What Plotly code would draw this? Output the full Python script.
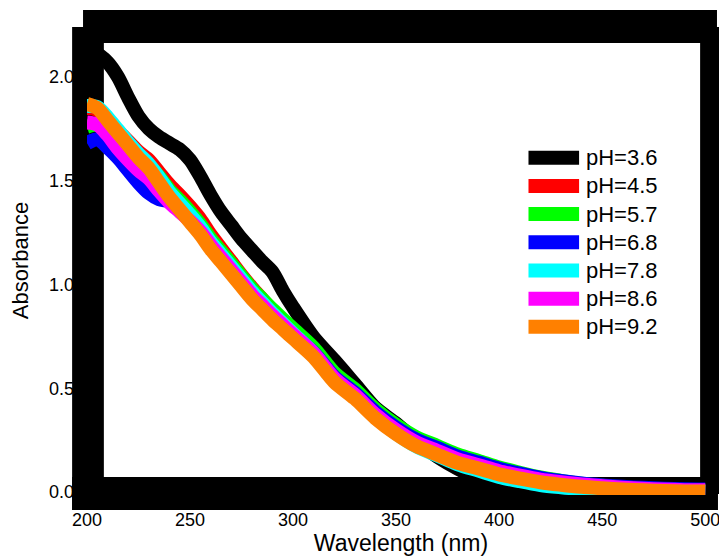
import plotly.graph_objects as go

# ---------------- data ----------------
wavelength = [200, 205, 210, 215, 220, 225, 230, 235, 240, 245, 250, 255, 260, 265, 270,
              275, 280, 285, 290, 295, 300, 310, 320, 330, 340, 350, 360, 370, 380, 390,
              400, 410, 420, 430, 440, 450, 460, 470, 480, 490, 500]

abs_ph36 = [2.10, 2.11, 2.07, 2.00, 1.90, 1.81, 1.75, 1.71, 1.68, 1.65, 1.60, 1.52, 1.43, 1.35, 1.285,
            1.22, 1.165, 1.11, 1.06, 0.97, 0.89, 0.745, 0.635, 0.52, 0.405, 0.33, 0.245, 0.17, 0.112, 0.065,
            0.035, 0.022, 0.015, 0.011, 0.008, 0.006, 0.005, 0.004, 0.003, 0.003, 0.002]
abs_ph45 = [1.85, 1.84, 1.79, 1.74, 1.69, 1.64, 1.60, 1.54, 1.48, 1.43, 1.375, 1.315, 1.24, 1.175, 1.11,
            1.045, 0.985, 0.93, 0.875, 0.825, 0.775, 0.685, 0.565, 0.483, 0.385, 0.31, 0.25, 0.208, 0.165, 0.135,
            0.103, 0.08, 0.06, 0.045, 0.033, 0.025, 0.018, 0.013, 0.009, 0.007, 0.005]
abs_ph57 = [1.76, 1.77, 1.75, 1.70, 1.65, 1.605, 1.575, 1.52, 1.455, 1.405, 1.35, 1.29, 1.22, 1.16, 1.10,
            1.04, 0.98, 0.93, 0.88, 0.833, 0.787, 0.695, 0.575, 0.495, 0.40, 0.324, 0.263, 0.222, 0.18, 0.15,
            0.118, 0.093, 0.07, 0.054, 0.04, 0.03, 0.022, 0.016, 0.012, 0.009, 0.007]
abs_ph68 = [1.68, 1.70, 1.66, 1.61, 1.55, 1.49, 1.44, 1.41, 1.40, 1.365, 1.31, 1.255, 1.19, 1.13, 1.07,
            1.01, 0.95, 0.90, 0.85, 0.805, 0.76, 0.672, 0.555, 0.478, 0.385, 0.311, 0.252, 0.212, 0.171, 0.142,
            0.112, 0.089, 0.068, 0.053, 0.041, 0.032, 0.025, 0.02, 0.016, 0.013, 0.012]
abs_ph78 = [1.86, 1.855, 1.805, 1.745, 1.685, 1.63, 1.58, 1.515, 1.445, 1.39, 1.335, 1.275, 1.205, 1.145, 1.085,
            1.025, 0.965, 0.913, 0.86, 0.812, 0.764, 0.668, 0.542, 0.458, 0.36, 0.282, 0.219, 0.176, 0.133, 0.103,
            0.073, 0.052, 0.034, 0.023, 0.014, 0.008, 0.004, 0.002, 0.001, 0.001, 0.0]
abs_ph86 = [1.78, 1.77, 1.72, 1.655, 1.60, 1.55, 1.51, 1.45, 1.395, 1.35, 1.305, 1.255, 1.19, 1.13, 1.07,
            1.01, 0.95, 0.90, 0.85, 0.804, 0.758, 0.668, 0.548, 0.468, 0.373, 0.298, 0.238, 0.198, 0.157, 0.129,
            0.10, 0.079, 0.06, 0.047, 0.036, 0.028, 0.021, 0.016, 0.012, 0.009, 0.008]
abs_ph92 = [1.87, 1.85, 1.79, 1.73, 1.67, 1.61, 1.56, 1.49, 1.42, 1.36, 1.30, 1.24, 1.17, 1.11, 1.05,
            0.99, 0.93, 0.88, 0.83, 0.785, 0.74, 0.65, 0.53, 0.45, 0.355, 0.28, 0.22, 0.18, 0.14, 0.113,
            0.085, 0.065, 0.047, 0.035, 0.025, 0.018, 0.012, 0.008, 0.005, 0.003, 0.002]

series_names = ["pH=3.6", "pH=4.5", "pH=5.7", "pH=6.8", "pH=7.8", "pH=8.6", "pH=9.2"]
series_values = [abs_ph36, abs_ph45, abs_ph57, abs_ph68, abs_ph78, abs_ph86, abs_ph92]
series_colors = ["#000000", "#ff0000", "#00ff00", "#0000ff", "#00ffff", "#ff00ff", "#ff8000"]

x_ticks = [200, 250, 300, 350, 400, 450, 500]
y_ticks = [0.0, 0.5, 1.0, 1.5, 2.0]

# ---------------- layout geometry (screen pixels; page body has an 8px margin) ----------------
PAGE_MARGIN = 8
W_FIG, H_FIG = 727 - PAGE_MARGIN, 556 - PAGE_MARGIN
L_S, T_S, R_S, B_S = 87, 26, 720, 496          # plot area in screen pixels
PW, PH = R_S - L_S, B_S - T_S
FONT = "Arial, 'Liberation Sans', sans-serif"


def px_x(p):
    return (p - L_S) / PW


def px_y(p):
    return (B_S - p) / PH


fig = go.Figure()
for name, vals, col in zip(series_names, series_values, series_colors):
    fig.add_trace(go.Scatter(x=wavelength, y=vals, name=name, mode="lines",
                             line=dict(color=col, width=14, shape="spline", smoothing=0.8),
                             showlegend=False))

shapes = []
# heavy black frame (drawn below the curves)
for (x0, y0, x1, y1) in [(83, 10, 722, 43), (72, 478, 723, 511), (72, 27, 104, 511), (705, 27, 740, 495)]:
    shapes.append(dict(type="rect", xref="paper", yref="paper",
                       x0=px_x(x0), x1=px_x(x1), y0=px_y(y1), y1=px_y(y0),
                       fillcolor="black", line=dict(width=0), layer="below"))

annotations = []
# legend: swatch + label for each series
for i, (name, col) in enumerate(zip(series_names, series_colors)):
    yc = 158 + i * 28.25
    shapes.append(dict(type="rect", xref="paper", yref="paper",
                       x0=px_x(532), x1=px_x(583), y0=px_y(yc + 7), y1=px_y(yc - 7),
                       fillcolor=col, line=dict(width=0), layer="above"))
    annotations.append(dict(text=name, xref="paper", yref="paper", x=px_x(588), y=px_y(yc),
                            xanchor="left", yanchor="middle", showarrow=False,
                            font=dict(family=FONT, size=22, color="black")))

fig.update_layout(
    width=W_FIG, height=H_FIG,
    margin=dict(l=L_S - PAGE_MARGIN, r=W_FIG - (R_S - PAGE_MARGIN), t=T_S - PAGE_MARGIN,
                b=H_FIG - (B_S - PAGE_MARGIN), pad=0),
    paper_bgcolor="white", plot_bgcolor="rgba(0,0,0,0)",
    font=dict(family=FONT, color="black"),
    shapes=shapes, annotations=annotations,
    showlegend=False,
)
fig.update_xaxes(range=[200, 200 + PW / 2.077], tickvals=x_ticks, ticktext=[str(v) for v in x_ticks],
                 showgrid=False, zeroline=False, showline=False, ticks="",
                 tickfont=dict(family=FONT, size=18, color="black"), ticklabelstandoff=12,
                 title=dict(text="Wavelength (nm)", font=dict(family=FONT, size=23, color="black"), standoff=3))
fig.update_yaxes(range=[(493 - B_S) / 208, (493 - T_S) / 208], tickvals=y_ticks,
                 ticktext=[f"{v:.1f}" for v in y_ticks],
                 showgrid=False, zeroline=False, showline=False, ticks="",
                 tickfont=dict(family=FONT, size=18, color="black"), ticklabelstandoff=12,
                 title=dict(text="Absorbance", font=dict(family=FONT, size=22, color="black"), standoff=15))

fig.write_html("out.html")
